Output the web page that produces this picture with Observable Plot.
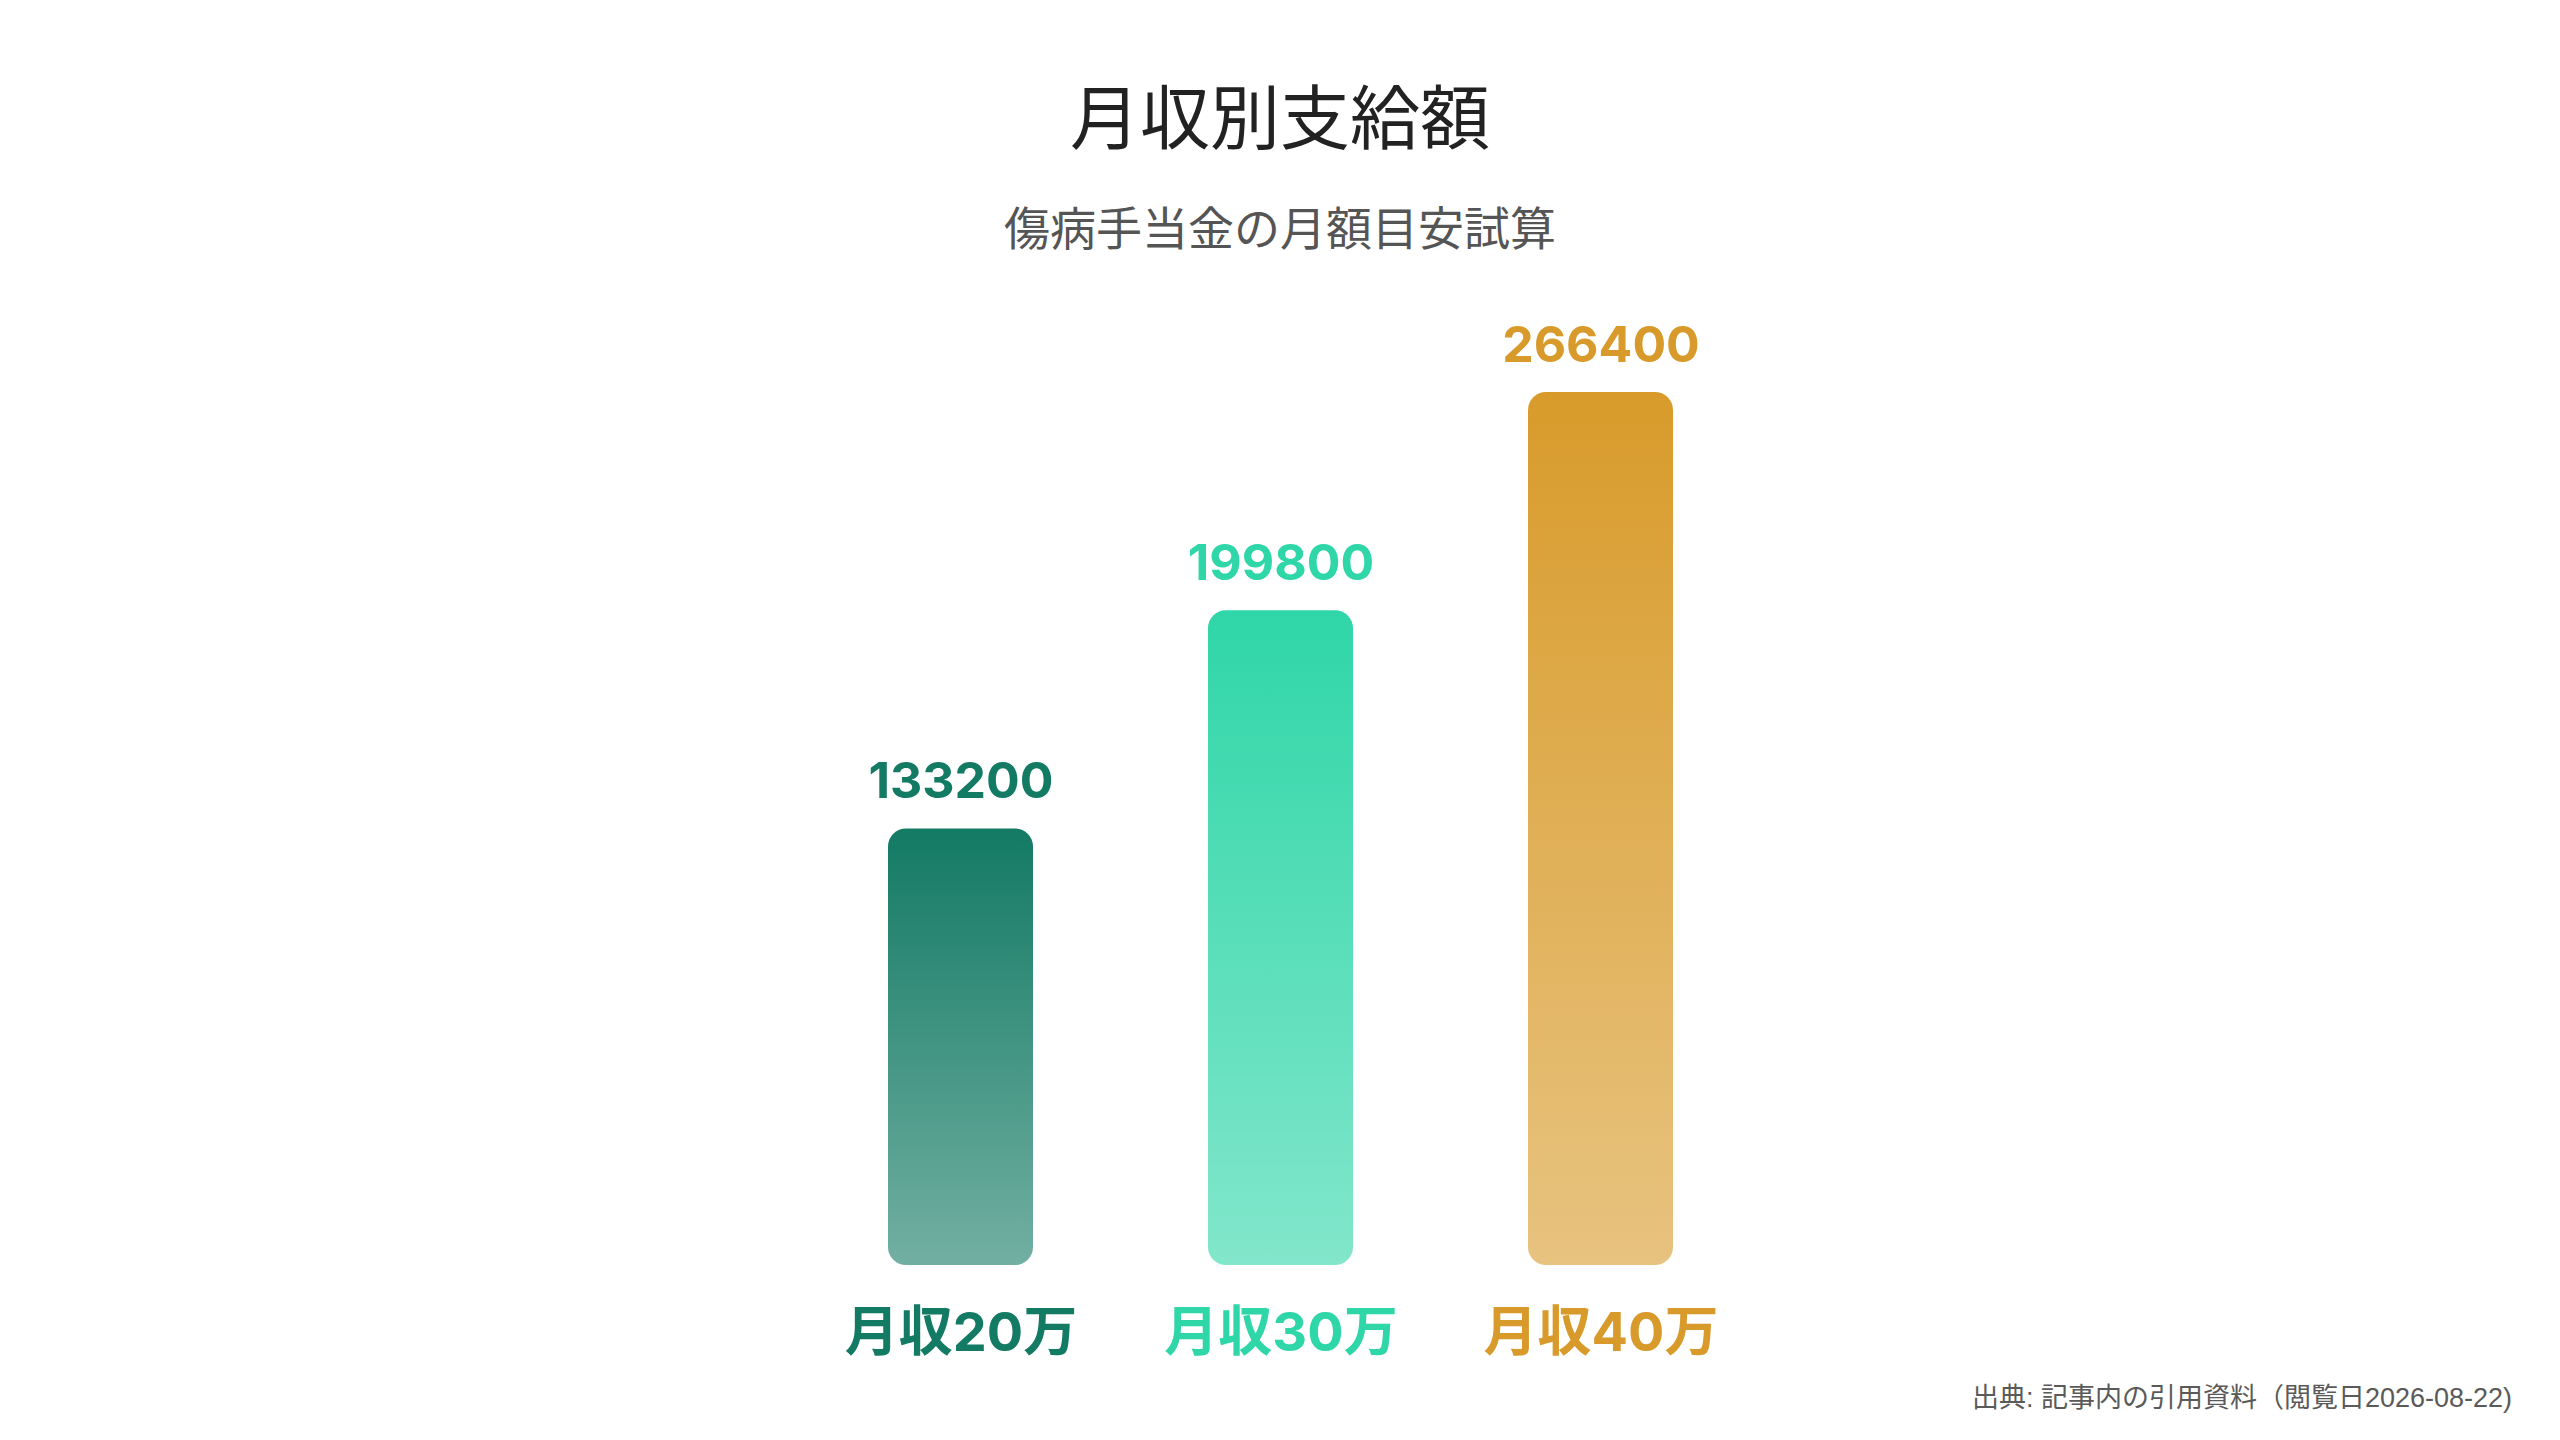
<!DOCTYPE html>
<html>
<head>
<meta charset="utf-8">
<script src="https://cdn.jsdelivr.net/npm/d3@7"></script>
<script src="https://cdn.jsdelivr.net/npm/@observablehq/plot@0.6"></script>
<style>
html, body { margin: 0; padding: 0; background: #fff; }
body { width: 2560px; height: 1440px; position: relative; overflow: hidden; font-family: "Noto Sans CJK JP", sans-serif; }
.t { position: absolute; line-height: 1; white-space: nowrap; }
#title { left: 0; width: 2560px; top: 79px; text-align: center; font-size: 70px; color: #222; }
#subtitle { left: 0; width: 2560px; top: 202px; text-align: center; font-size: 46px; color: #555; }
#source { right: 48px; top: 1385px; font-size: 27px; color: #5a5a5a; font-family: "Liberation Sans", "Noto Sans CJK JP", sans-serif; }
#chart { position: absolute; left: 0; top: 280px; }
</style>
</head>
<body>
<div class="t" id="title">月収別支給額</div>
<div class="t" id="subtitle">傷病手当金の月額目安試算</div>
<div id="chart"></div>
<div class="t" id="source">出典: 記事内の引用資料（閲覧日2026-08-22)</div>
<script>
const categories = ["月収20万", "月収30万", "月収40万"];
const values = [133200, 199800, 266400];
const colors = ["#137a64", "#2fd6a8", "#d89b2b"];

const data = categories.map((c, i) => ({category: c, value: values[i], color: colors[i], grad: `url(#grad${i})`}));

const defs = () => {
  const d = d3.create("svg:defs");
  colors.forEach((c, i) => {
    const g = d.append("linearGradient").attr("id", `grad${i}`)
      .attr("x1", 0).attr("y1", 0).attr("x2", 0).attr("y2", 1);
    g.append("stop").attr("offset", "0%").attr("stop-color", c).attr("stop-opacity", 1);
    g.append("stop").attr("offset", "100%").attr("stop-color", c).attr("stop-opacity", 0.6);
  });
  return d.node();
};

const font = "Inter, 'Noto Sans CJK JP', sans-serif";

const chart = Plot.plot({
  width: 2560,
  height: 1100,
  marginTop: 112,
  marginBottom: 115,
  marginLeft: 712,
  marginRight: 712,
  x: {domain: categories, padding: 0.547, axis: null},
  y: {domain: [0, 266400], axis: null},
  color: {type: "identity"},
  style: {background: "transparent", fontFamily: font},
  marks: [
    defs,
    Plot.barY(data, {x: "category", y: "value", fill: "grad", rx: 18}),
    Plot.text(data, {x: "category", y: "value", text: d => String(d.value), fill: "color", dy: -47, fontSize: 50, fontWeight: 700, fontFamily: font}),
    Plot.text(data, {x: "category", y: 0, text: "category", fill: "color", dy: 68, fontSize: 54, fontWeight: 700, fontFamily: font})
  ]
});
document.getElementById("chart").appendChild(chart);
</script>
</body>
</html>
